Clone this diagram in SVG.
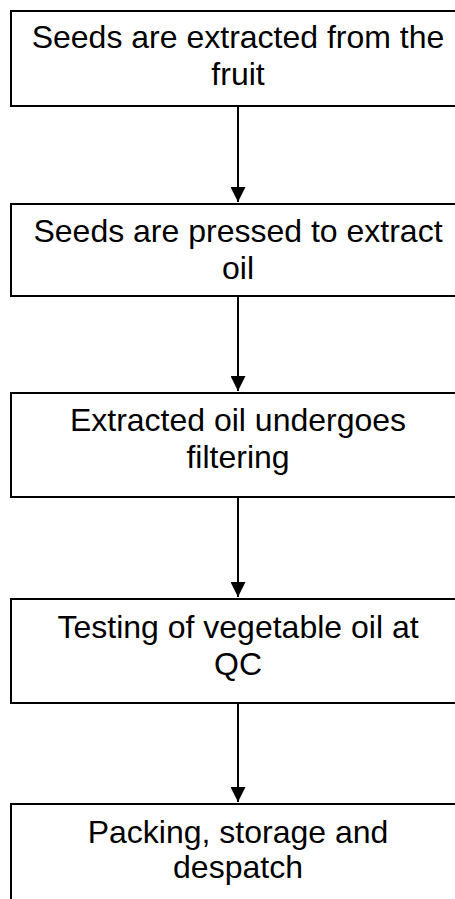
<svg xmlns="http://www.w3.org/2000/svg" width="455" height="899" viewBox="0 0 455 899">
  <style>
    .box { fill: #ffffff; stroke: #000000; stroke-width: 2; }
    .lbl { font-family: "Liberation Sans", Arial, sans-serif; font-size: 32px; fill: #000000; text-anchor: middle; }
    .conn { stroke: #000000; stroke-width: 2; fill: none; }
  </style>
  <defs>
    <marker id="arrow" markerWidth="15" markerHeight="15" refX="15" refY="7.5" orient="auto" markerUnits="userSpaceOnUse">
      <path d="M0,0 L15,7.5 L0,15 Z" fill="#000000"/>
    </marker>
  </defs>
  <rect width="455" height="899" fill="#ffffff"/>
  <g id="connectors">
    <line class="conn" x1="238" y1="106" x2="238" y2="202" marker-end="url(#arrow)"/>
    <line class="conn" x1="238" y1="297" x2="238" y2="391" marker-end="url(#arrow)"/>
    <line class="conn" x1="238" y1="497" x2="238" y2="597" marker-end="url(#arrow)"/>
    <line class="conn" x1="238" y1="703" x2="238" y2="802" marker-end="url(#arrow)"/>
  </g>
  <g id="node1">
    <rect class="box" x="11" y="11" width="460" height="95"/>
    <text class="lbl" x="238" y="48">Seeds are extracted from the</text>
    <text class="lbl" x="238" y="85">fruit</text>
  </g>
  <g id="node2">
    <rect class="box" x="11" y="204" width="460" height="92"/>
    <text class="lbl" x="238" y="242">Seeds are pressed to extract</text>
    <text class="lbl" x="238" y="279">oil</text>
  </g>
  <g id="node3">
    <rect class="box" x="11" y="393" width="460" height="104"/>
    <text class="lbl" x="238" y="431">Extracted oil undergoes</text>
    <text class="lbl" x="238" y="468">filtering</text>
  </g>
  <g id="node4">
    <rect class="box" x="11" y="599" width="460" height="104"/>
    <text class="lbl" x="238" y="638">Testing of vegetable oil at</text>
    <text class="lbl" x="238" y="675">QC</text>
  </g>
  <g id="node5">
    <rect class="box" x="11" y="804" width="460" height="120"/>
    <text class="lbl" x="238" y="843">Packing, storage and</text>
    <text class="lbl" x="238" y="878">despatch</text>
  </g>
</svg>
